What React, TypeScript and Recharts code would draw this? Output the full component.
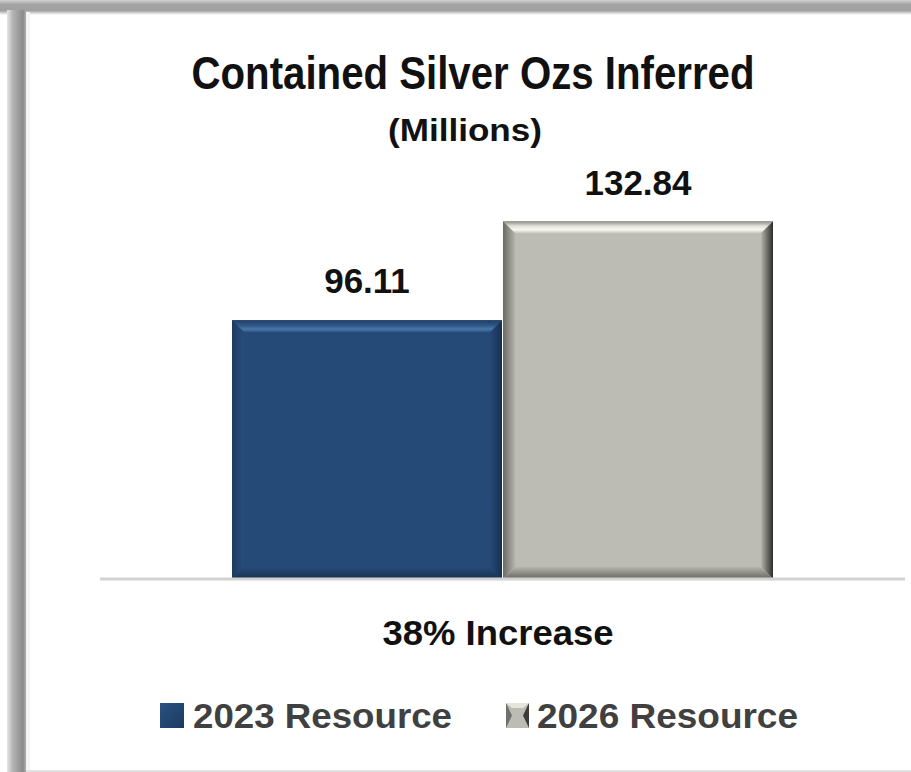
import React from "react";
import { BarChart, Bar, XAxis, YAxis, ReferenceLine, LabelList } from "recharts";

const categories = ["Contained Silver Ozs Inferred"];
const seriesNames = ["2023 Resource", "2026 Resource"];
const values2023 = [96.11];
const values2026 = [132.84];
const yDomain = [0, 140];
const titleText = "Contained Silver Ozs Inferred";
const subtitleText = "(Millions)";
const noteText = "38% Increase";

const data = categories.map((c, i) => ({
  name: c,
  r2023: values2023[i],
  r2026: values2026[i],
}));

const W = 911;
const H = 772;
const FONT = "'Liberation Sans', Arial, Helvetica, sans-serif";

type Theme = {
  id: string;
  main: string;
  top: [number, string][];
  left: [string, string];
  right: [string, string];
  bottom: [string, string];
};

const blueTheme: Theme = {
  id: "blue",
  main: "#264a77",
  top: [
    [0, "#1f3e66"],
    [0.45, "#2f5888"],
    [0.75, "#4a77aa"],
    [1, "#2b5181"],
  ],
  left: ["#1d3a60", "#284d7b"],
  right: ["#264a77", "#162f4f"],
  bottom: ["#264a77", "#18324f"],
};

const grayTheme: Theme = {
  id: "gray",
  main: "#bcbcb4",
  top: [
    [0, "#8c8c86"],
    [0.4, "#e2e2da"],
    [0.7, "#f7f7ef"],
    [1, "#c6c6be"],
  ],
  left: ["#6a6a64", "#b4b4ac"],
  right: ["#b4b4ac", "#2c2c2a"],
  bottom: ["#b4b4ac", "#66665f"],
};

const makeBevel = (t: Theme) => (props: any) => {
  const { x, y, width: w, height: h } = props;
  if (w == null || h == null || h <= 0) return null;
  const b = 12;
  const id = t.id;
  return (
    <g>
      <defs>
        <linearGradient id={`top-${id}`} x1="0" y1="0" x2="0" y2="1">
          {t.top.map(([o, c], i) => (
            <stop key={i} offset={o} stopColor={c} />
          ))}
        </linearGradient>
        <linearGradient id={`left-${id}`} x1="0" y1="0" x2="1" y2="0">
          <stop offset="0" stopColor={t.left[0]} />
          <stop offset="1" stopColor={t.left[1]} />
        </linearGradient>
        <linearGradient id={`right-${id}`} x1="0" y1="0" x2="1" y2="0">
          <stop offset="0" stopColor={t.right[0]} />
          <stop offset="1" stopColor={t.right[1]} />
        </linearGradient>
        <linearGradient id={`bottom-${id}`} x1="0" y1="0" x2="0" y2="1">
          <stop offset="0" stopColor={t.bottom[0]} />
          <stop offset="1" stopColor={t.bottom[1]} />
        </linearGradient>
      </defs>
      <rect x={x} y={y} width={w} height={h} fill={t.main} />
      <polygon
        points={`${x},${y} ${x + w},${y} ${x + w - b},${y + b} ${x + b},${y + b}`}
        fill={`url(#top-${id})`}
      />
      <polygon
        points={`${x},${y} ${x + b},${y + b} ${x + b},${y + h - b} ${x},${y + h}`}
        fill={`url(#left-${id})`}
      />
      <polygon
        points={`${x + w},${y} ${x + w},${y + h} ${x + w - b},${y + h - b} ${x + w - b},${y + b}`}
        fill={`url(#right-${id})`}
      />
      <polygon
        points={`${x},${y + h} ${x + w},${y + h} ${x + w - b},${y + h - b} ${x + b},${y + h - b}`}
        fill={`url(#bottom-${id})`}
      />
    </g>
  );
};

const BlueBar = makeBevel(blueTheme);
const GrayBar = makeBevel(grayTheme);

const labelStyle = {
  fontFamily: FONT,
  fontSize: 35,
  fontWeight: 700,
  fill: "#111111",
};

export default function App() {
  return (
    <div
      style={{
        position: "absolute",
        left: 0,
        top: 0,
        width: W,
        height: H,
        background: "#ffffff",
        overflow: "hidden",
      }}
    >
      <div style={{ position: "absolute", left: 0, top: 0 }}>
        <BarChart
          width={W}
          height={H}
          data={data}
          margin={{ top: 202, right: 6, bottom: 193, left: 100 }}
          barGap={1}
          barSize={270}
        >
          <XAxis dataKey="name" hide />
          <YAxis hide domain={yDomain} />
          <ReferenceLine y={0} stroke="#d2d2d2" strokeWidth={3} />
          <Bar
            dataKey="r2023"
            name={seriesNames[0]}
            fill={blueTheme.main}
            shape={BlueBar}
            isAnimationActive={false}
          >
            <LabelList dataKey="r2023" position="top" offset={27} style={labelStyle} />
          </Bar>
          <Bar
            dataKey="r2026"
            name={seriesNames[1]}
            fill={grayTheme.main}
            shape={GrayBar}
            isAnimationActive={false}
          >
            <LabelList dataKey="r2026" position="top" offset={26} style={labelStyle} />
          </Bar>
        </BarChart>
      </div>
      <svg
        width={W}
        height={H}
        style={{ position: "absolute", left: 0, top: 0, pointerEvents: "none" }}
      >
        <defs>
          <linearGradient id="frameTop" x1="0" y1="0" x2="0" y2="1">
            <stop offset="0" stopColor="#d0d0d0" />
            <stop offset="0.3" stopColor="#a4a4a4" />
            <stop offset="0.7" stopColor="#a0a0a0" />
            <stop offset="1" stopColor="#ffffff" />
          </linearGradient>
          <linearGradient id="frameLeft" x1="0" y1="0" x2="1" y2="0">
            <stop offset="0" stopColor="#e6e6e6" />
            <stop offset="0.3" stopColor="#b4b4b4" />
            <stop offset="0.85" stopColor="#8a8a8a" />
            <stop offset="1" stopColor="#b0b0b0" />
          </linearGradient>
          <linearGradient id="legBlue" x1="0" y1="0" x2="1" y2="1">
            <stop offset="0" stopColor="#2b5283" />
            <stop offset="1" stopColor="#1b3a60" />
          </linearGradient>
        </defs>
        <rect x={0} y={0} width={W} height={15} fill="url(#frameTop)" />
        <rect x={7} y={10} width={19} height={H - 10} fill="url(#frameLeft)" />
        <rect x={26} y={12} width={4} height={H - 12} fill="#f4f4f4" />
        <rect x={26} y={H - 2} width={W - 26} height={2} fill="#e2e2e2" />

        <text
          x={473}
          y={89}
          textAnchor="middle"
          fontFamily={FONT}
          fontSize={47}
          fontWeight={700}
          fill="#111111"
          textLength={563}
          lengthAdjust="spacingAndGlyphs"
        >
          {titleText}
        </text>
        <text
          x={465}
          y={141}
          textAnchor="middle"
          fontFamily={FONT}
          fontSize={31}
          fontWeight={700}
          fill="#111111"
          textLength={154}
          lengthAdjust="spacingAndGlyphs"
        >
          {subtitleText}
        </text>
        <text
          x={498}
          y={645}
          textAnchor="middle"
          fontFamily={FONT}
          fontSize={35}
          fontWeight={700}
          fill="#111111"
          textLength={231}
          lengthAdjust="spacingAndGlyphs"
        >
          {noteText}
        </text>

        <rect x={160} y={703} width={24} height={25} fill="url(#legBlue)" />
        <text
          x={193}
          y={728}
          fontFamily={FONT}
          fontSize={35}
          fontWeight={700}
          fill="#404040"
          textLength={259}
          lengthAdjust="spacingAndGlyphs"
        >
          {seriesNames[0]}
        </text>

        <rect x={506} y={703} width={23} height={25} fill="#bcbcb4" />
        <polygon points="506,703 512,715.5 506,728" fill="#707070" />
        <polygon points="529,703 523,715.5 529,728" fill="#3c3c3a" />
        <polygon points="506,703 529,703 523,708 512,708" fill="#e6e6de" />
        <text
          x={537}
          y={728}
          fontFamily={FONT}
          fontSize={35}
          fontWeight={700}
          fill="#404040"
          textLength={261}
          lengthAdjust="spacingAndGlyphs"
        >
          {seriesNames[1]}
        </text>
      </svg>
    </div>
  );
}
